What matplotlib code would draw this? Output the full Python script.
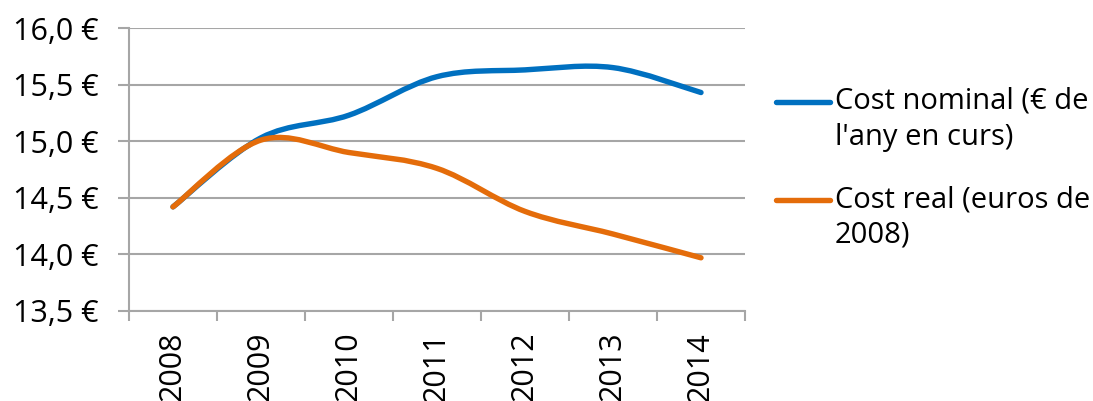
import numpy as np
import matplotlib.pyplot as plt
from matplotlib.path import Path
from matplotlib.patches import PathPatch
from matplotlib.lines import Line2D

plt.rcParams['font.family'] = ['Open Sans', 'DejaVu Sans']

# Cost per year
years = ['2008', '2009', '2010', '2011', '2012', '2013', '2014']
cost_nominal = [14.42, 15.03, 15.23, 15.57, 15.63, 15.65, 15.43]
cost_real = [14.42, 15.01, 14.90, 14.76, 14.38, 14.18, 13.97]
label_nominal = "Cost nominal (€ de\nl'any en curs)"
label_real = "Cost real (euros de\n2008)"
yticks = [13.5, 14.0, 14.5, 15.0, 15.5, 16.0]

blue = '#0070C0'
orange = '#E46C0A'
grid_col = '#A6A6A6'


def smooth_path(x, y):
    # cubic Bezier through every point (spreadsheet-style smoothed line)
    pts = np.column_stack([x, y]).astype(float)
    ext = np.vstack([pts[0], pts, pts[-1]])
    verts = [pts[0]]
    codes = [Path.MOVETO]
    for i in range(len(pts) - 1):
        p0, p1, p2, p3 = ext[i], ext[i + 1], ext[i + 2], ext[i + 3]
        c1 = p1 + (p2 - p0) / 6.0
        c2 = p2 - (p3 - p1) / 6.0
        verts += [c1, c2, p2]
        codes += [Path.CURVE4] * 3
    return Path(verts, codes)


fig = plt.figure(figsize=(10.93, 4.01), dpi=100)
ax = fig.add_axes([129 / 1093, 1 - 311 / 401, 616 / 1093, 283 / 401])

x = np.arange(len(years))
for vals, col in [(cost_nominal, blue), (cost_real, orange)]:
    patch = PathPatch(smooth_path(x, vals), facecolor='none', edgecolor=col,
                      lw=3.9, capstyle='round', joinstyle='round', zorder=3)
    ax.add_patch(patch)

ax.set_xlim(-0.5, len(years) - 0.5)
ax.set_ylim(13.5, 16.0)

ax.set_yticks(yticks)
ax.set_yticklabels([f'{v:.1f} €'.replace('.', ',') for v in yticks])
ax.yaxis.grid(True, color=grid_col, lw=1.5)
ax.set_axisbelow(True)

# boundaries carry the tick marks, centres carry the year labels
ax.set_xticks(np.arange(-0.5, len(years), 1.0))
ax.set_xticklabels([])
ax.set_xticks(x, minor=True)
ax.set_xticklabels(years, minor=True, rotation=90)
ax.tick_params(axis='x', which='major', length=7, width=1.5, color=grid_col, direction='out')
ax.tick_params(axis='x', which='minor', length=0, pad=15, labelsize=22)
ax.tick_params(axis='y', length=8, width=1.5, color=grid_col, pad=14, labelsize=22)

for s in ['top', 'right']:
    ax.spines[s].set_visible(False)
for s in ['left', 'bottom']:
    ax.spines[s].set_color(grid_col)
    ax.spines[s].set_linewidth(1.5)

# legend drawn by hand so the key sits on the first text line
for ypix, col, lab in [(102, blue, label_nominal), (200, orange, label_real)]:
    yf = 1 - ypix / 401
    fig.add_artist(Line2D([776 / 1093, 830 / 1093], [yf, yf], color=col, lw=3.9,
                          solid_capstyle='round', transform=fig.transFigure))
    fig.text(835 / 1093, yf + 15 / 401, lab, fontsize=21, va='top', ha='left',
             linespacing=1.3)

fig.savefig('out.png', dpi=100)
